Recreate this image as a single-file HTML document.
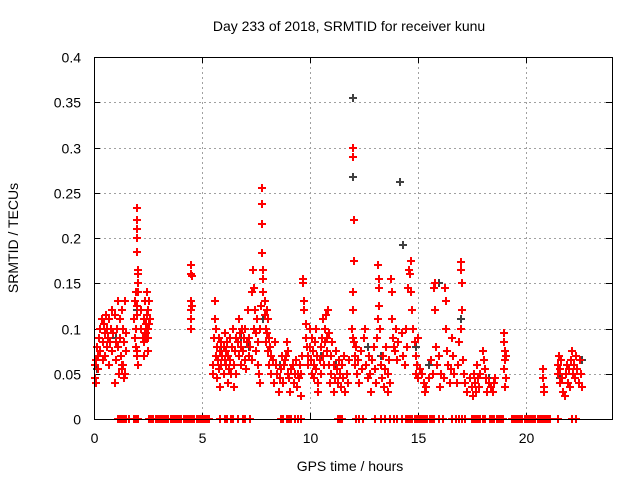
<!DOCTYPE html>
<html><head><meta charset="utf-8"><style>
body{margin:0;background:#fff;}
svg text{font-family:"Liberation Sans",sans-serif;font-size:14px;fill:#000;}
</style></head><body>
<svg id="chart" width="640" height="480" viewBox="0 0 640 480" xmlns="http://www.w3.org/2000/svg">
<rect width="640" height="480" fill="#fff"/>
<text x="349" y="31" text-anchor="middle">Day 233 of 2018, SRMTID for receiver kunu</text>
<text x="350" y="471" text-anchor="middle">GPS time / hours</text>
<text transform="translate(18,238) rotate(-90)" text-anchor="middle">SRMTID / TECUs</text>
<g id="grid"></g>
<g id="axes"></g>
<g id="zeros"></g>
<g id="black"></g>
<g id="red"></g>
<rect x="94.5" y="57.5" width="518" height="362" fill="none" stroke="#000" stroke-width="1"/>
</svg>
<script>
const xTicks=[0,5,10,15,20];
const yTicks=[0,0.05,0.1,0.15,0.2,0.25,0.3,0.35,0.4];
const yTickLabels=["0","0.05","0.1","0.15","0.2","0.25","0.3","0.35","0.4"];
const redPoints=[[0.05,.045],[0.05,.06],[0.1,.065],[0.1,.04],[0.15,.08],[0.2,.07],[0.2,.055],[0.25,.09],[0.3,.1],[0.3,.075],[0.35,.11],[0.4,.065],[0.4,.085],[0.45,.105],[0.5,.095],[0.5,.07],[0.55,.115],[0.6,.08],[0.6,.1],[0.65,.09],[0.7,.11],[0.7,.06],[0.75,.085],[0.8,.1],[0.85,.12],[0.85,.075],[0.9,.095],[0.95,.115],[1.0,.085],[1.0,.065],[1.05,.1],[1.1,.08],[1.1,.13],[1.15,.05],[1.2,.09],[1.2,.11],[1.25,.07],[1.3,.12],[1.3,.06],[1.35,.1],[1.4,.085],[1.4,.045],[1.45,.13],[1.5,.095],[1.5,.075],[0.95,.04],[1.3,.055],[1.35,.06],[1.45,.05],
[1.85,.11],[1.9,.13],[1.9,.09],[1.95,.14],[1.95,.1],[2.0,.233],[2.0,.22],[2.0,.21],[2.0,.2],[2.0,.185],[2.05,.165],[2.05,.16],[2.05,.15],[2.05,.14],[2.0,.125],[2.0,.115],[1.95,.08],[2.0,.07],[2.05,.06],[2.0,.075],
[2.2,.12],[2.2,.1],[2.25,.09],[2.3,.11],[2.3,.085],[2.35,.13],[2.35,.095],[2.4,.105],[2.4,.09],[2.45,.14],[2.45,.115],[2.5,.1],[2.5,.12],[2.5,.09],[2.55,.13],[2.55,.105],[2.6,.11],[2.3,.07],[2.5,.075],[2.4,.095],
[4.5,.17],[4.5,.16],[4.55,.158],[4.5,.13],[4.55,.125],[4.5,.12],[4.5,.11],[4.5,.1],
[5.5,.06],[5.5,.05],[5.55,.09],[5.6,.13],[5.6,.11],[5.65,.1],[5.65,.07],[5.7,.08],[5.7,.045],[5.75,.065],[5.8,.055],[5.8,.09],[5.85,.075],[5.85,.035],[5.9,.06],[5.9,.085],[5.95,.07],[6.0,.05],[6.0,.08],[6.05,.095],[6.05,.065],[6.1,.06],[6.1,.075],[6.15,.085],[6.2,.07],[6.2,.04],[6.25,.055],[6.3,.09],[6.3,.065],[6.35,.05],[6.4,.08],[6.45,.1],[6.5,.06],[6.5,.035],[6.55,.075],[6.6,.09],[6.6,.05],[6.65,.085],[6.7,.11],[6.7,.07],[6.75,.095],[6.8,.08],[6.8,.06],[6.85,.1],[6.9,.075],[6.95,.09],[7.0,.065],[7.0,.1],[7.05,.055],[7.1,.085],[7.15,.12],[7.2,.09],[7.2,.07],[7.25,.08],[7.3,.065],[7.3,.14],[7.35,.165],[7.4,.145],[7.4,.1],[7.45,.12],[7.5,.095],[7.5,.075],[7.55,.11],[7.6,.06],[7.6,.085],[7.65,.05],[7.7,.04],[7.7,.1],[7.75,.125],[7.8,.255],[7.8,.238],[7.8,.215],[7.8,.183],[7.85,.165],[7.85,.155],[7.85,.14],[7.9,.13],[7.9,.115],[7.95,.1],[7.95,.085],[8.0,.12],[8.0,.095],[8.05,.11],[8.05,.075],[8.1,.09],[8.1,.06],[8.15,.08],[8.2,.07],[8.2,.05],[8.3,.065],[8.35,.04],[8.4,.085],[8.45,.06],[8.5,.05],[8.55,.03],[8.6,.045],[8.65,.055],[8.7,.07],[8.75,.04],[8.8,.06],[8.85,.065],[8.9,.07],[8.95,.085],[9.0,.075],[9.0,.05],[9.05,.045],[9.1,.03],[9.15,.055],[9.2,.06],[9.25,.04],[9.3,.05],[9.35,.065],[9.4,.035],[9.45,.05],[9.5,.045],[9.55,.06],[9.6,.025],[9.6,.05],[9.65,.07],[9.7,.155],[9.7,.15],[9.75,.13],[9.75,.12],[9.8,.105],[9.8,.09],[9.85,.08],[9.9,.07],[9.9,.06],
[10.0,.1],[10.0,.08],[10.05,.065],[10.1,.05],[10.1,.09],[10.15,.075],[10.2,.06],[10.2,.045],[10.25,.085],[10.3,.1],[10.3,.055],[10.35,.07],[10.4,.04],[10.4,.03],[10.45,.065],[10.5,.08],[10.5,.05],[10.55,.09],[10.6,.11],[10.6,.07],[10.65,.06],[10.7,.1],[10.7,.085],[10.75,.115],[10.8,.09],[10.8,.075],[10.85,.12],[10.9,.06],[10.9,.095],[10.95,.04],[11.0,.07],[11.0,.05],[11.05,.085],[11.1,.03],[11.1,.06],[11.15,.045],[11.2,.075],[11.25,.055],[11.3,.04],[11.35,.065],[11.4,.05],[11.45,.035],[11.5,.06],[11.55,.045],[11.6,.07],[11.65,.03],[11.7,.05],[11.75,.04],[11.8,.065],
[12.0,.3],[12.0,.29],[12.05,.22],[12.05,.175],[12.0,.14],[12.0,.12],[11.95,.1],[12.0,.09],[12.05,.085],[12.1,.07],[12.1,.06],[12.15,.08],[12.2,.05],[12.25,.065],[12.3,.04],[12.35,.075],[12.4,.055],[12.5,.09],[12.55,.1],[12.6,.06],[12.7,.045],[12.75,.07],[12.8,.05],[12.85,.03],[12.9,.065],[12.95,.08],[13.0,.055],[13.05,.04],[13.1,.09],[13.15,.17],[13.2,.155],[13.2,.145],[13.2,.125],[13.15,.11],[13.25,.1],[13.3,.06],[13.35,.045],[13.4,.07],[13.45,.035],[13.5,.055],[13.55,.08],[13.6,.03],[13.6,.05],[13.65,.065],[13.7,.04],[13.75,.155],[13.8,.14],[13.8,.11],[13.85,.09],[13.9,.08],[13.95,.075],[14.0,.1],[14.05,.065],[14.1,.085],[14.25,.095],[14.3,.07],[14.4,.06],[14.45,.1],[14.5,.08],[14.55,.145],[14.6,.165],[14.65,.16],[14.7,.175],[14.7,.14],[14.75,.12],[14.8,.1],[14.85,.085],[14.9,.07],[14.9,.05],[14.95,.06],[15.0,.09],[15.0,.045],[15.1,.055],[15.2,.05],[15.3,.04],[15.35,.03],[15.4,.035],[15.5,.045],[15.6,.065],[15.7,.05],[15.75,.145],[15.8,.15],[15.8,.12],[15.85,.08],[15.9,.06],[16.0,.07],[16.05,.035],[16.1,.05],[16.2,.045],[16.25,.145],[16.3,.13],[16.3,.1],[16.35,.075],[16.4,.06],[16.5,.04],[16.55,.055],[16.6,.09],[16.65,.07],[16.7,.05],[16.8,.04],[16.85,.06],[16.9,.085],[17.0,.173],[17.0,.165],[17.05,.15],[17.05,.12],[17.0,.1],[17.1,.065],[17.15,.05],[17.2,.04],[17.3,.03],[17.4,.045],[17.5,.035],[17.55,.025],[17.6,.05],[17.65,.04],[17.7,.03],[17.75,.06],[17.8,.045],[17.85,.035],[17.9,.05],[18.0,.075],[18.05,.065],[18.1,.055],[18.15,.045],[18.2,.03],[18.3,.04],[18.4,.035],[18.5,.03],[18.55,.04],[18.6,.045],[19.0,.095],[19.0,.085],[19.05,.075],[19.05,.065],[19.1,.07],[19.0,.055],[19.1,.045],[19.05,.035],[20.8,.055],[20.8,.045],[20.85,.035],[20.85,.03],[21.5,.06],[21.5,.05],[21.55,.07],[21.6,.055],[21.6,.04],[21.65,.065],[21.7,.045],[21.75,.03],[21.8,.025],[21.85,.05],[21.9,.06],[21.95,.04],[22.0,.055],[22.05,.035],[22.1,.065],[22.15,.075],[22.2,.05],[22.25,.06],[22.3,.045],[22.35,.07],[22.4,.055],[22.45,.04],[22.5,.065],[22.55,.05],[22.6,.035]];
const blackPoints=[[12.0,.355],[12.0,.267],[14.2,.262],[14.3,.192],[4.55,.158],[2.0,.12],[7.85,.11],[6.8,.09],[9.7,.15],[16.0,.15],[17.0,.11],[10.5,.07],[13.3,.07],[15.5,.06],[22.6,.065],[1.0,.09],[0.15,.055],[5.9,.08],[8.6,.06],[11.2,.06],[14.9,.08],[18.3,.045],[21.6,.045],[12.7,.08],[7.2,.08]];
const zeroTimes=[1.1,1.2,1.3,1.4,1.5,1.6,1.85,1.95,2.05,2.55,2.65,2.75,2.85,2.95,3.05,3.15,3.25,3.35,3.45,3.55,3.65,3.75,3.85,3.95,4.05,4.15,4.25,4.35,4.45,4.55,4.65,4.75,4.85,4.95,5.05,5.15,5.25,5.35,5.85,6.05,6.15,6.35,6.45,6.65,6.9,7.0,7.25,8.65,8.75,8.95,9.05,9.15,9.3,9.45,9.6,11.3,11.4,11.5,12.15,12.3,12.45,13.0,13.3,13.5,13.7,13.9,14.05,14.25,14.45,14.55,14.65,14.75,14.85,14.95,15.05,15.15,15.25,15.35,15.45,15.55,15.65,15.75,16.0,16.15,16.6,16.75,16.9,17.05,17.2,17.5,17.6,17.7,17.8,17.9,18.0,18.1,18.35,18.45,18.55,18.65,18.75,18.85,18.95,19.35,19.45,19.55,19.65,19.75,19.85,19.95,20.05,20.15,20.25,20.35,20.45,20.55,20.65,20.75,20.85,20.95,21.05,21.15,21.5,22.15,22.35];
const X0=94,X1=612,Y0=419,Y1=57,XMAX=24,YMAX=0.4;
const xs=t=>X0+(X1-X0)*t/XMAX;
const ys=v=>Y0-(Y0-Y1)*v/YMAX;
const NS="http://www.w3.org/2000/svg";
function mk(tag,attrs,parent){const e=document.createElementNS(NS,tag);for(const k in attrs)e.setAttribute(k,attrs[k]);parent.appendChild(e);return e;}
const grid=document.getElementById('grid'),axes=document.getElementById('axes');
xTicks.forEach(t=>{const x=Math.round(xs(t))+0.5;
 if(t>0){const g=mk('line',{x1:x,x2:x,y1:Y1,y2:Y0,stroke:'#a0a0a0','stroke-dasharray':'2,3'},grid);
 
 }
 mk('line',{x1:x,x2:x,y1:Y0,y2:Y0-6,stroke:'#000'},axes);
 mk('line',{x1:x,x2:x,y1:Y1,y2:Y1+6,stroke:'#000'},axes);
 const tx=mk('text',{x:x,y:Y0+24,'text-anchor':'middle'},axes);tx.textContent=t;
 
 
});
yTicks.forEach((v,i)=>{const y=Math.round(ys(v))+0.5;
 if(v>0&&v<YMAX){const g=mk('line',{x1:X0,x2:X1,y1:y,y2:y,stroke:'#a0a0a0','stroke-dasharray':'2,3'},grid);
 
 }
 mk('line',{x1:X0,x2:X0+6,y1:y,y2:y,stroke:'#000'},axes);
 mk('line',{x1:X1,x2:X1-6,y1:y,y2:y,stroke:'#000'},axes);
 const tx=mk('text',{x:X0-13,y:y+5,'text-anchor':'end'},axes);tx.textContent=yTickLabels[i];
 
 
});
function plus(g,t,v,color){const x=Math.round(xs(t)),y=Math.round(ys(v));
 const p=mk('path',{d:`M${x-4} ${y}H${x+4}M${x} ${y-4}V${y+4}`,stroke:color,'stroke-width':1.6,fill:'none','shape-rendering':'crispEdges'},g);
 return p;}
const gb=document.getElementById('black'),gr=document.getElementById('red'),gz=document.getElementById('zeros');
zeroTimes.forEach(t=>{const p=plus(gz,t,0,'#ff0000');
 
 });
redPoints.forEach(([t,v])=>{const p=plus(gr,t,v,'#ff0000');
 
 });
blackPoints.forEach(([t,v])=>{const p=plus(gb,t,v,'#404040');
 
 });
</script>
</body></html>
